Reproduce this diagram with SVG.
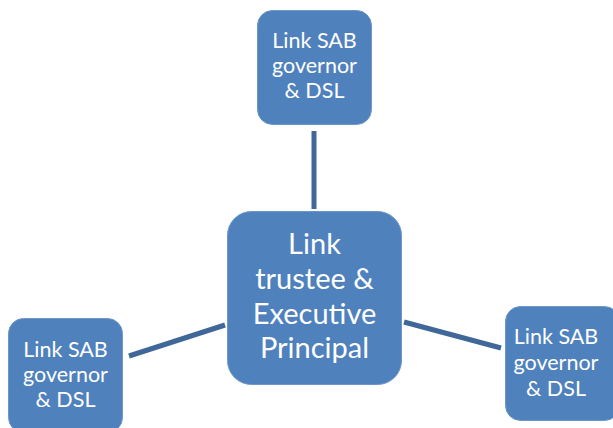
<svg xmlns="http://www.w3.org/2000/svg" width="613" height="428" viewBox="0 0 613 428">
<style>
.node{fill:#4F81BD;stroke:#6E96C8;stroke-width:1}
.t{font-family:Lato,"Liberation Sans",sans-serif;fill:#FFFFFF;text-anchor:middle}
.s{font-size:21.5px}
.b{font-size:29px}
.c{stroke:#3F6898;stroke-width:5;fill:none}
</style>
<rect width="613" height="428" fill="#FFFFFF"/>
<g id="connectors">
<line class="c" x1="314" y1="131" x2="314" y2="209"/>
<line class="c" x1="129" y1="356" x2="225" y2="325"/>
<line class="c" x1="404" y1="322" x2="501" y2="348"/>
</g>
<g id="center">
<rect class="node" x="227.5" y="211.5" width="174" height="173" rx="24"/>
<text class="t b" x="314.5" y="254">Link</text>
<text class="t b" x="314.5" y="289">trustee &amp;</text>
<text class="t b" x="314.5" y="324">Executive</text>
<text class="t b" x="314.5" y="358">Principal</text>
</g>
<g id="top">
<rect class="node" x="257.5" y="10.5" width="114" height="114" rx="15"/>
<text class="t s" x="314.5" y="48">Link SAB</text>
<text class="t s" x="314.5" y="73">governor</text>
<text class="t s" x="314.5" y="98">&amp; DSL</text>
</g>
<g id="left">
<rect class="node" x="8.5" y="318.5" width="114" height="114" rx="15"/>
<text class="t s" x="65.5" y="357">Link SAB</text>
<text class="t s" x="65.5" y="382">governor</text>
<text class="t s" x="65.5" y="407">&amp; DSL</text>
</g>
<g id="right">
<rect class="node" x="505.5" y="306.5" width="114" height="114" rx="15"/>
<text class="t s" x="556" y="344">Link SAB</text>
<text class="t s" x="556" y="370">governor</text>
<text class="t s" x="556" y="396">&amp; DSL</text>
</g>
</svg>
